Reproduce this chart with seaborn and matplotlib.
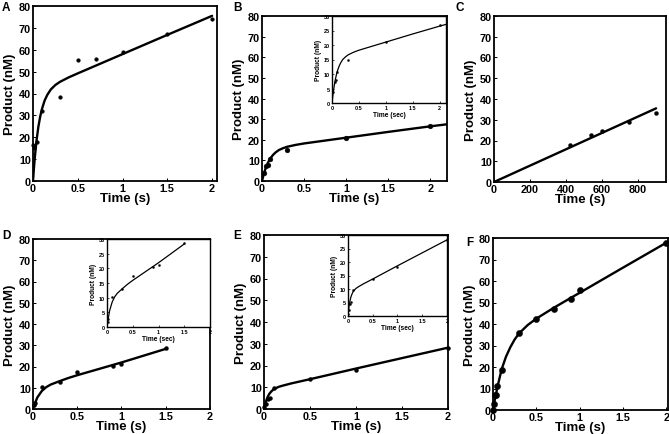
import matplotlib
matplotlib.use("Agg")
import matplotlib.pyplot as plt
import seaborn as sns
import pandas as pd

# ---------------- data ----------------
# Panel A
a_pt_t = [0.005, 0.012, 0.05, 0.1, 0.3, 0.5, 0.7, 1.0, 1.5, 2.0]
a_pt_y = [16.5, 15.0, 18.0, 32.0, 38.5, 55.5, 55.8, 59.0, 67.2, 74.0]
a_fit_t = [0, 0.01, 0.02, 0.04, 0.06, 0.08, 0.1, 0.13, 0.16, 0.2, 0.25, 0.3, 0.4, 0.5, 0.75, 1.0, 1.5, 2.0]
a_fit_y = [0, 5.7, 10.7, 18.7, 24.8, 29.4, 32.9, 36.8, 39.4, 41.9, 43.9, 45.3, 47.4, 49.2, 53.6, 58.0, 66.8, 75.5]

# Panel B (main + inset share data)
b_pt_t = [0.02, 0.05, 0.07, 0.1, 0.3, 1.0, 2.0]
b_pt_y = [3.8, 7.4, 7.9, 10.8, 15.0, 20.9, 26.8]
b_fit_t = [0, 0.02, 0.04, 0.06, 0.08, 0.1, 0.13, 0.16, 0.2, 0.25, 0.3, 0.4, 0.5, 0.75, 1.0, 1.5, 2.0, 2.2]
b_fit_y = [0, 3.2, 5.8, 7.9, 9.6, 11.0, 12.6, 13.8, 15.0, 15.9, 16.6, 17.5, 18.2, 19.6, 21.0, 23.8, 26.5, 27.5]

# Panel C
c_pt_t = [420, 540, 600, 750, 900]
c_pt_y = [18.0, 22.5, 24.8, 28.8, 33.3]
c_fit_t = [0, 900]
c_fit_y = [0, 35.5]

# Panel D (main + inset share data)
d_pt_t = [0.01, 0.02, 0.1, 0.3, 0.5, 0.9, 1.0, 1.5]
d_pt_y = [1.8, 2.8, 10.3, 12.8, 17.5, 20.3, 21.3, 28.5]
d_fit_t = [0, 0.02, 0.05, 0.1, 0.15, 0.2, 0.25, 0.3, 0.4, 0.5, 0.75, 1.0, 1.5]
d_fit_y = [0, 2.5, 5.5, 8.5, 10.3, 11.5, 12.3, 13.1, 14.6, 15.9, 18.9, 21.9, 28.3]

# Panel E (main + inset share data)
e_pt_t = [0.005, 0.02, 0.04, 0.07, 0.11, 0.5, 1.0, 2.0]
e_pt_y = [0.8, 2.3, 4.5, 5.1, 9.5, 13.8, 18.1, 28.1]
e_fit_t = [0, 0.02, 0.04, 0.06, 0.08, 0.1, 0.13, 0.16, 0.2, 0.3, 0.5, 1.0, 1.5, 2.0]
e_fit_y = [0, 3.4, 5.6, 7.1, 8.1, 8.9, 9.6, 10.2, 10.7, 11.8, 13.7, 18.6, 23.4, 28.2]

# Panel F
f_pt_t = [0.0, 0.01, 0.02, 0.04, 0.05, 0.1, 0.3, 0.5, 0.7, 0.9, 1.0, 2.0]
f_pt_y = [0.0, 3.0, 7.0, 7.0, 11.2, 18.6, 35.8, 42.5, 47.0, 51.5, 56.0, 77.5]
f_fit_t = [0, 0.02, 0.05, 0.1, 0.15, 0.2, 0.25, 0.3, 0.4, 0.5, 0.7, 0.9, 1.0, 1.5, 2.0]
f_fit_y = [0, 4.5, 10.5, 19.0, 24.8, 29.2, 32.8, 35.6, 39.5, 42.5, 47.5, 52.2, 54.5, 66.2, 77.8]

main_yticks = [0, 10, 20, 30, 40, 50, 60, 70, 80]
time_ticks = [0, 0.5, 1, 1.5, 2]
time_ticklabels = ["0", "0.5", "1", "1.5", "2"]
c_ticks = [0, 200, 400, 600, 800]
c_ticklabels = ["0", "200", "400", "600", "800"]
inset_yticks = [0, 5, 10, 15, 20, 25, 30]

# ---------------- figure ----------------
sns.set_theme(style="ticks")
plt.rcParams['font.family'] = ['Liberation Sans', 'DejaVu Sans']
plt.rcParams['text.color'] = 'black'
plt.rcParams['axes.labelcolor'] = 'black'
plt.rcParams['xtick.color'] = 'black'
plt.rcParams['ytick.color'] = 'black'

W, H = 669, 435
fig = plt.figure(figsize=(W / 100, H / 100), dpi=100)


def rect(l, t, r, b):
    return [l / W, 1 - b / H, (r - l) / W, (b - t) / H]


def panel(box, pt_t, pt_y, fit_t, fit_y, xlim, xticks, xlabels, ms):
    ax = fig.add_axes(rect(*box))
    sns.lineplot(x=fit_t, y=fit_y, ax=ax, color="black", linewidth=1.7, sort=False)
    sns.scatterplot(x=pt_t, y=pt_y, ax=ax, color="black", s=ms, edgecolor="black",
                    linewidth=0.3, zorder=5, clip_on=False)
    ax.set_xlim(*xlim)
    ax.set_ylim(0, 80)
    ax.set_xticks(xticks)
    ax.set_xticklabels(xlabels)
    ax.set_yticks(main_yticks)
    ax.set_yticklabels([str(v) for v in main_yticks])
    for s in ax.spines.values():
        s.set_visible(True)
        s.set_linewidth(1.3)
        s.set_color("black")
    ax.tick_params(direction="in", length=2.0, width=0.7, labelsize=7.8, pad=1.5,
                   colors="black", labelcolor="black")
    for lab in ax.get_xticklabels() + ax.get_yticklabels():
        lab.set_fontweight("bold")
        lab.set_color("black")
    ax.set_xlabel("Time (s)", fontsize=9.5, fontweight="bold", labelpad=-1, color="black")
    ax.set_ylabel("Product (nM)", fontsize=9.5, fontweight="bold", labelpad=2, color="black")
    return ax


def inset(box, pt_t, pt_y, fit_t, fit_y, xlim):
    ax = fig.add_axes(rect(*box))
    ax.set_facecolor("white")
    sns.lineplot(x=fit_t, y=fit_y, ax=ax, color="black", linewidth=0.9, sort=False)
    sns.scatterplot(x=pt_t, y=pt_y, ax=ax, color="black", s=2.5, edgecolor="black",
                    linewidth=0.2, zorder=5)
    ax.set_xlim(*xlim)
    ax.set_ylim(0, 30)
    ax.set_xticks(time_ticks)
    ax.set_xticklabels(time_ticklabels)
    ax.set_yticks(inset_yticks)
    ax.set_yticklabels([str(v) for v in inset_yticks])
    for s in ax.spines.values():
        s.set_visible(True)
        s.set_linewidth(1.0)
        s.set_color("black")
    ax.tick_params(direction="in", length=1.5, width=0.5, labelsize=4, pad=1.5,
                   colors="black", labelcolor="black")
    for lab in ax.get_xticklabels() + ax.get_yticklabels():
        lab.set_fontweight("bold")
        lab.set_color("black")
    ax.set_xlabel("Time (sec)", fontsize=4.8, fontweight="bold", labelpad=0.5, color="black")
    ax.set_ylabel("Product (nM)", fontsize=4.8, fontweight="bold", labelpad=1.5, color="black")
    return ax


panel((33, 7, 217, 182), a_pt_t, a_pt_y, a_fit_t, a_fit_y, (0, 2.055),
      time_ticks, time_ticklabels, 7)
panel((262, 17, 447, 182), b_pt_t, b_pt_y, b_fit_t, b_fit_y, (0, 2.2),
      time_ticks, time_ticklabels, 12)
inset((332, 17, 446, 104), b_pt_t, b_pt_y, b_fit_t, b_fit_y, (0, 2.12))
panel((494, 17, 666, 183), c_pt_t, c_pt_y, c_fit_t, c_fit_y, (0, 955),
      c_ticks, c_ticklabels, 8)
panel((33, 240, 210, 410), d_pt_t, d_pt_y, d_fit_t, d_fit_y, (0, 2.0),
      time_ticks, time_ticklabels, 8)
inset((107, 240, 210, 328), d_pt_t, d_pt_y, d_fit_t, d_fit_y, (0, 2.0))
panel((264, 236, 448, 410), e_pt_t, e_pt_y, e_fit_t, e_fit_y, (0, 2.0),
      time_ticks, time_ticklabels, 8)
inset((348, 236, 447, 317), e_pt_t, e_pt_y, e_fit_t, e_fit_y, (0, 2.0))
panel((493, 239, 668, 411), f_pt_t, f_pt_y, f_fit_t, f_fit_y, (0, 2.02),
      time_ticks, time_ticklabels, 20)

letters = [("A", 2, 8), ("B", 233, 8), ("C", 455, 8), ("D", 2, 236), ("E", 233, 236), ("F", 466, 243)]
for txt, x, y in letters:
    fig.text(x / W, 1 - y / H, txt, fontsize=8.5, fontweight="bold", ha="left", va="center",
             color="black")

fig.savefig("out.png", dpi=100, facecolor="white")
